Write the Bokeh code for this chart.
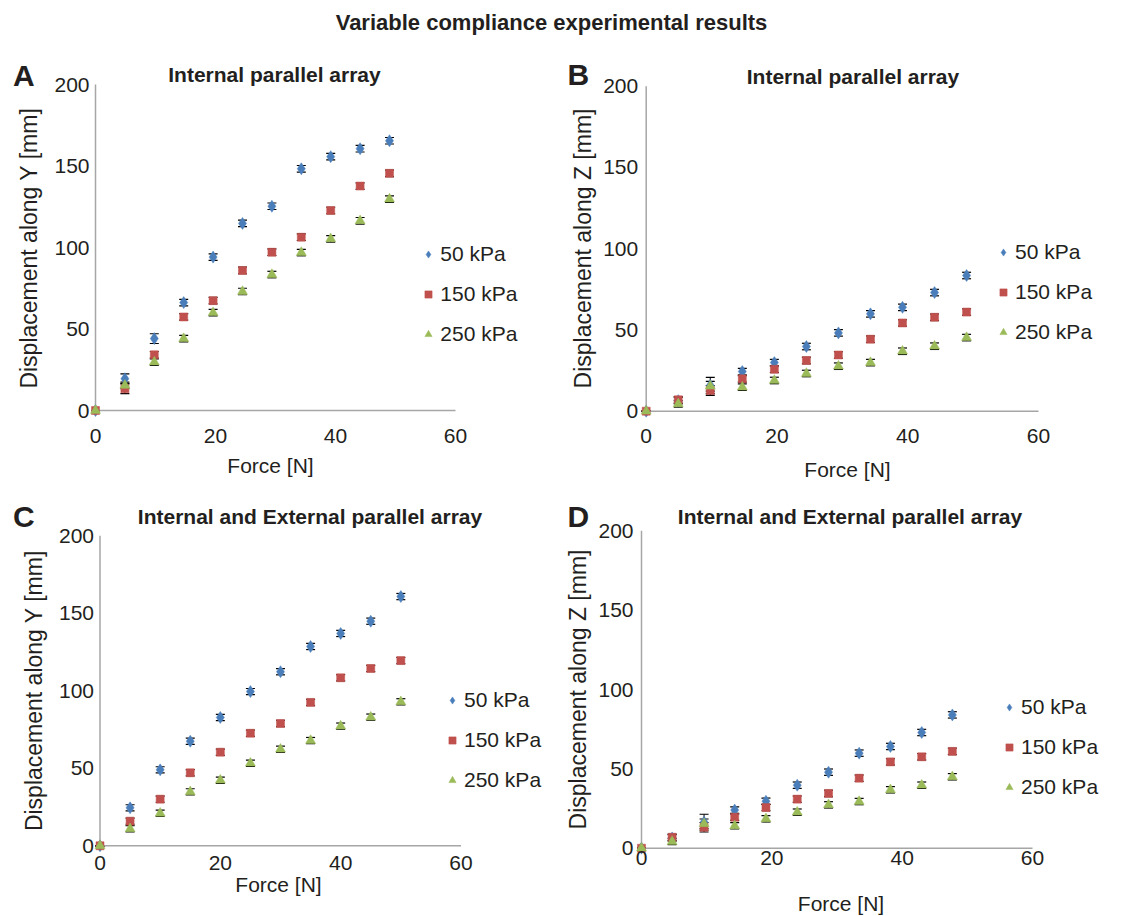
from bokeh.plotting import figure
from bokeh.models import (ColumnDataSource, Whisker, TeeHead, Label, Legend,
                          LegendItem, FixedTicker, Range1d, Div)
from bokeh.layouts import column, row
from bokeh.embed import file_html
from bokeh.resources import INLINE
import math

FONT = "Liberation Sans"
INK = "#231f20"
AXIS = "#a6a6a6"

# ---------------- data ----------------
series_names = ["50 kPa", "150 kPa", "250 kPa"]
x_ticks = [0, 20, 40, 60]
y_ticks = [0, 50, 100, 150, 200]

# Panel A: internal parallel array, displacement along Y
force_A = [0, 4.9, 9.8, 14.7, 19.6, 24.5, 29.4, 34.3, 39.2, 44.1, 49.0]
dispY_A_50 = [0, 19.5, 44.1, 66.2, 94.1, 114.8, 125.3, 148.3, 155.7, 160.6, 165.5]
dispY_A_150 = [0, 13.3, 34.2, 57.4, 67.4, 85.9, 97.1, 106.3, 122.7, 137.7, 145.5]
dispY_A_250 = [0, 15.4, 29.7, 44.1, 60.0, 73.0, 83.4, 96.9, 105.3, 116.4, 129.7]
err_A_50 = [0, 3, 3, 2, 2, 2, 2, 2, 2, 2, 2]
err_A_150 = [0, 3, 2, 2, 2, 2, 2, 2, 2, 2, 2]
err_A_250 = [0, 2, 2, 2, 2, 2, 2, 2, 2, 2, 2]

# Panel B: internal parallel array, displacement along Z
force_B = [0, 4.9, 9.8, 14.7, 19.6, 24.5, 29.4, 34.3, 39.2, 44.1, 49.0]
dispZ_B_50 = [0, 6.5, 15.8, 24.4, 29.9, 39.8, 48.2, 59.9, 63.9, 73.0, 83.5]
dispZ_B_150 = [0, 7.0, 12.7, 19.9, 25.8, 31.2, 34.6, 44.3, 54.3, 57.8, 61.0]
dispZ_B_250 = [0, 4.5, 15.4, 14.8, 18.9, 23.2, 27.7, 29.9, 36.9, 40.0, 45.3]
err_B_50 = [0, 2, 5, 2, 2, 2, 2, 2, 2, 2, 2]
err_B_150 = [0, 2, 3, 2, 2, 2, 2, 2, 2, 2, 2]
err_B_250 = [0, 2, 3, 2, 2, 2, 2, 2, 2, 2, 2]

# Panel C: internal and external parallel array, displacement along Y
force_C = [0, 5, 10, 15, 20, 25, 30, 35, 40, 45, 50]
dispY_C_50 = [0, 24.5, 49.0, 67.5, 82.8, 99.5, 112.3, 128.6, 137.0, 144.9, 160.8]
dispY_C_150 = [0, 15.9, 30.1, 47.1, 60.4, 72.6, 78.9, 92.5, 108.4, 114.4, 119.5]
dispY_C_250 = [0, 11.0, 21.0, 34.8, 42.3, 53.3, 62.3, 67.9, 77.2, 83.0, 92.9]
err_C_50 = [0, 2, 2, 2, 2, 2, 2, 2, 2, 2, 2]
err_C_150 = [0, 2, 2, 2, 2, 2, 2, 2, 2, 2, 2]
err_C_250 = [0, 2, 2, 2, 2, 2, 2, 2, 2, 2, 2]

# Panel D: internal and external parallel array, displacement along Z
force_D = [0, 4.7, 9.6, 14.3, 19.1, 23.9, 28.7, 33.4, 38.2, 43.0, 47.7]
dispZ_D_50 = [0, 6.5, 16.4, 24.0, 29.6, 39.7, 47.9, 59.9, 64.1, 72.9, 84.0]
dispZ_D_150 = [0, 6.9, 13.2, 19.5, 25.6, 30.9, 34.5, 44.1, 54.4, 57.6, 61.0]
dispZ_D_250 = [0, 4.2, 15.4, 14.1, 18.5, 22.7, 27.3, 29.4, 36.8, 39.7, 45.0]
err_D_50 = [0, 2, 5, 2, 2, 2, 2, 2, 2, 2, 2]
err_D_150 = [0, 2, 3, 2, 2, 2, 2, 2, 2, 2, 2]
err_D_250 = [0, 2, 3, 2, 2, 2, 2, 2, 2, 2, 2]

# ---------------- styles / layout ----------------
MARKERS = [
    dict(marker="diamond", size=12, color="#4a7ebb"),
    dict(marker="square", size=8, color="#c0504d"),
    dict(marker="triangle", size=10, color="#9bbb59"),
]

# all positions in page pixels (top-left origin); text positions are text centres
PANELS = [
    dict(letter="A", title="Internal parallel array", ylabel="Displacement along Y [mm]",
         force=force_A, values=[dispY_A_50, dispY_A_150, dispY_A_250],
         errors=[err_A_50, err_A_150, err_A_250],
         geom=dict(canvas=(0, 44, 560, 440), x0=95, x60=455, y0=410, y200=84, yts=6, xts=18,
                   letter=(12.5, 75), title=(274, 74.2), ylab=(28, 247.5), xlab=(270, 465),
                   legend=(419.3, 345.5))),
    dict(letter="B", title="Internal parallel array", ylabel="Displacement along Z [mm]",
         force=force_B, values=[dispZ_B_50, dispZ_B_150, dispZ_B_250],
         errors=[err_B_50, err_B_150, err_B_250],
         geom=dict(canvas=(560, 44, 556, 440), x0=645.7, x60=1038, y0=410.7, y200=85.7, yts=8, xts=18,
                   letter=(567, 74), title=(852.5, 75.8), ylab=(582, 248), xlab=(847, 469),
                   legend=(994, 344))),
    dict(letter="C", title="Internal and External parallel array", ylabel="Displacement along Y [mm]",
         force=force_C, values=[dispY_C_50, dispY_C_150, dispY_C_250],
         errors=[err_C_50, err_C_150, err_C_250],
         geom=dict(canvas=(0, 484, 560, 431), x0=99.5, x60=460.5, y0=845.3, y200=535.3, yts=6, xts=10,
                   letter=(12.5, 515.7), title=(309.5, 516), ylab=(33, 690), xlab=(278, 884),
                   legend=(443, 792))),
    dict(letter="D", title="Internal and External parallel array", ylabel="Displacement along Z [mm]",
         force=force_D, values=[dispZ_D_50, dispZ_D_150, dispZ_D_250],
         errors=[err_D_50, err_D_150, err_D_250],
         geom=dict(canvas=(560, 484, 556, 431), x0=641, x60=1032, y0=847.7, y200=530.3, yts=8, xts=3,
                   letter=(567, 516), title=(849.5, 516), ylab=(577, 689), xlab=(840.5, 903),
                   legend=(1000, 799))),
]


def make_panel(cfg):
    g = cfg["geom"]
    cl, ct, W, H = g["canvas"]
    sx = (g["x60"] - g["x0"]) / (x_ticks[-1] - x_ticks[0])
    sy = (g["y0"] - g["y200"]) / (y_ticks[-1] - y_ticks[0])
    x_start = (cl - g["x0"]) / sx
    x_end = (cl + W - g["x0"]) / sx
    y_end = (g["y0"] - ct) / sy
    y_start = (g["y0"] - (ct + H)) / sy

    def scr(px, py):
        return px - cl, (ct + H) - py

    p = figure(width=W, height=H, min_border=0,
               x_range=Range1d(x_start, x_end), y_range=Range1d(y_start, y_end),
               output_backend="svg", toolbar_location=None, tools="")
    p.outline_line_color = None
    p.xgrid.visible = False
    p.ygrid.visible = False
    p.background_fill_color = "white"
    p.border_fill_color = "white"

    for ax in (p.xaxis[0], p.yaxis[0]):
        ax.fixed_location = 0
        ax.axis_line_color = None
        ax.major_tick_line_color = None
        ax.minor_tick_line_color = None
        ax.major_tick_out = 0
        ax.major_tick_in = 0
        ax.minor_tick_out = 0
        ax.minor_tick_in = 0
        ax.major_label_text_font = FONT
        ax.major_label_text_font_size = "21px"
        ax.major_label_text_color = INK
        ax.axis_label = None
    p.xaxis.ticker = FixedTicker(ticks=x_ticks)
    p.yaxis.ticker = FixedTicker(ticks=y_ticks)
    p.xaxis.major_label_standoff = g["xts"]
    p.yaxis.major_label_standoff = g["yts"]

    # axis lines spanning the tick range
    p.segment(x0=[x_ticks[0], x_ticks[0]], y0=[y_ticks[0], y_ticks[0]],
              x1=[x_ticks[-1], x_ticks[0]], y1=[y_ticks[0], y_ticks[-1]],
              line_color=AXIS, line_width=1.5)

    items = []
    for name, vals, errs, st in zip(series_names, cfg["values"], cfg["errors"], MARKERS):
        src = ColumnDataSource(dict(
            x=cfg["force"], y=vals,
            lo=[v - e for v, e in zip(vals, errs)],
            hi=[v + e for v, e in zip(vals, errs)],
        ))
        p.add_layout(Whisker(source=src, base="x", lower="lo", upper="hi",
                             line_color="black", line_width=1, level="underlay",
                             upper_head=TeeHead(size=9, line_color="black", line_width=1.2),
                             lower_head=TeeHead(size=9, line_color="black", line_width=1.2)))
        r = p.scatter("x", "y", source=src, marker=st["marker"], size=st["size"],
                      fill_color=st["color"], line_color=st["color"], line_width=0.5)
        items.append(LegendItem(label=name, renderers=[r]))

    lx, ly = scr(*g["legend"])
    leg = Legend(items=items, location=(lx, ly), orientation="vertical",
                 padding=0, margin=0, spacing=16, glyph_width=18, glyph_height=18,
                 label_height=24, label_standoff=3, label_text_font=FONT,
                 label_text_font_size="21px", label_text_color=INK,
                 border_line_color=None, background_fill_alpha=0)
    p.add_layout(leg)

    def add_text(text, pos, size, bold=False, align="left", angle=0.0):
        x, y = scr(*pos)
        p.add_layout(Label(x=x, y=y, x_units="screen", y_units="screen", text=text,
                           text_font=FONT, text_font_size=size,
                           text_font_style="bold" if bold else "normal",
                           text_color=INK, text_align=align, text_baseline="middle",
                           angle=angle))

    add_text(cfg["letter"], g["letter"], "30px", bold=True, align="left")
    add_text(cfg["title"], g["title"], "21px", bold=True, align="center")
    add_text("Force [N]", g["xlab"], "21px", align="center")
    add_text(cfg["ylabel"], g["ylab"], "23px", align="center", angle=math.pi / 2)
    return p


figs = [make_panel(c) for c in PANELS]

head = Div(text="Variable compliance experimental results", width=1087, height=36,
           margin=(8, 0, 0, 8),
           styles={"font-family": FONT, "font-size": "22px", "font-weight": "bold",
                   "color": INK, "text-align": "center", "line-height": "29px"})

layout = column(head, row(figs[0], figs[1]), row(figs[2], figs[3]))

open("out.html", "w").write(file_html(layout, INLINE, title="Variable compliance experimental results"))
